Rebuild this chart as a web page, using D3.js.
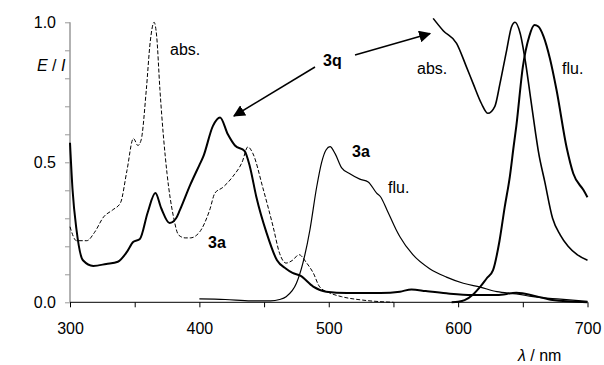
<!DOCTYPE html>
<html lang="en">
<head>
<meta charset="UTF-8">
<title>Spectra 3a / 3q</title>
<style>
  body { margin: 0; background: #fff; }
  svg text { font-family: Arial, 'Liberation Sans', sans-serif; font-size: 16px; fill: #000; }
  .line { fill: none; stroke: #000; }
</style>
</head>
<body>
<div id="chart"></div>
<script src="https://d3js.org/d3.v7.min.js"></script>
<script>
// 3a absorption (dashed)
const absA_nm = [300,305,313,319,326,333,339,344,349,352.5,355,359,362,365,367,369.5,375,380,384,389,393,400,408,412,418,426,433,437.5,441.5,449,457,462,467,472,477,483,488,493,501,510,526,550];
const absA_val = [0.27,0.22,0.22,0.25,0.305,0.33,0.355,0.47,0.585,0.56,0.58,0.76,0.93,1.0,0.95,0.76,0.46,0.305,0.24,0.23,0.23,0.25,0.33,0.39,0.41,0.45,0.50,0.555,0.53,0.41,0.27,0.175,0.14,0.15,0.17,0.14,0.105,0.055,0.033,0.02,0.008,0.0];

// 3q absorption (thick)
const absQ_nm = [300,302,305,310,318,328,337,344,349,354,360,366,370.6,377,382,385,393,400,403,410.5,416,422,427.5,435,439,444,452,460,467,472,478,488,498,514,540,555,564,575,591,611,630,645,660,673,700];
const absQ_val = [0.57,0.40,0.26,0.15,0.13,0.137,0.145,0.18,0.216,0.226,0.32,0.39,0.335,0.283,0.30,0.33,0.42,0.49,0.52,0.63,0.66,0.60,0.56,0.54,0.485,0.377,0.247,0.15,0.12,0.105,0.095,0.056,0.038,0.033,0.033,0.038,0.046,0.04,0.032,0.026,0.026,0.034,0.022,0.008,0.0];

// 3q absorption, long-wavelength band (magnified)
const absQz_nm = [580.7,588.5,598.8,606.5,611.7,618,623,628.4,632.3,637.5,641.3,644,648,652,656,660,662,667,673,679,685,692,700];
const absQz_val = [1.014,0.97,0.925,0.84,0.78,0.71,0.675,0.70,0.78,0.90,0.984,1.0,0.96,0.86,0.73,0.60,0.54,0.43,0.30,0.24,0.20,0.17,0.15];

// 3a fluorescence
const fluA_nm = [400,420,440,455,462,467,475,480,485.5,490.6,494.5,498,501,505,510,516,524,530.5,537,540,545,552,555,565,578,591,604,617,630,645,658,679,700];
const fluA_val = [0.012,0.01,0.005,0.005,0.01,0.02,0.068,0.14,0.26,0.41,0.50,0.545,0.556,0.53,0.48,0.46,0.44,0.43,0.39,0.377,0.33,0.26,0.234,0.17,0.12,0.09,0.068,0.054,0.038,0.03,0.02,0.011,0.003];

// 3q fluorescence
const fluQ_nm = [595,600,605,612,617,622,627,632,636,640,643,645,650,655,659,662,666,671,676,684,689,697,700];
const fluQ_val = [0,0.002,0.008,0.03,0.055,0.085,0.115,0.22,0.34,0.45,0.56,0.63,0.84,0.95,0.99,0.985,0.95,0.87,0.76,0.55,0.46,0.40,0.375];

const xTicks = [300,350,400,450,500,550,600,650,700];
const xLabels = [300,400,500,600,700];
const yTicks = [0,0.1,0.2,0.3,0.4,0.5,0.6,0.7,0.8,0.9,1.0];
const yLabels = [0,0.5,1.0];

const width = 604, height = 365;
const svg = d3.select("#chart").append("svg")
    .attr("width", width)
    .attr("height", height);

const x = d3.scaleLinear().domain([300, 700]).range([70, 587.5]);
const y = d3.scaleLinear().domain([0, 1]).range([302.3, 22.3]);

// axes
const yAxis = svg.append("g")
    .attr("transform", "translate(70,0)")
    .call(d3.axisLeft(y).tickValues(yTicks).tickSize(5).tickPadding(9)
        .tickFormat(d => yLabels.some(v => Math.abs(v - d) < 1e-9) ? d3.format(".1f")(d) : ""));
yAxis.select(".domain").attr("stroke", "#999").attr("stroke-width", 1.5).attr("d", "M0," + y(1) + "V" + y(0));
yAxis.selectAll(".tick line").attr("stroke", "#999");
yAxis.selectAll("text").style("font-size", "16px").attr("fill", "#000");

const xAxis = svg.append("g")
    .attr("transform", "translate(0," + y(0) + ")")
    .call(d3.axisBottom(x).tickValues(xTicks).tickSize(5).tickPadding(15)
        .tickFormat(d => xLabels.includes(d) ? d : ""));
xAxis.select(".domain").attr("stroke", "#000").attr("d", "M" + x(300) + ",0H" + x(700));
xAxis.selectAll(".tick line").attr("stroke", "#000");
xAxis.selectAll("text").style("font-size", "16px").attr("fill", "#000");

// lines
const line = d3.line().x(d => x(d[0])).y(d => y(d[1])).curve(d3.curveMonotoneX);
const zip = (a, b) => a.map((v, i) => [v, b[i]]);

svg.append("path").attr("class", "line").attr("d", line(zip(absA_nm, absA_val)))
    .attr("stroke-width", 1).attr("stroke-dasharray", "4,2");
svg.append("path").attr("class", "line").attr("d", line(zip(fluA_nm, fluA_val)))
    .attr("stroke-width", 1.2);
svg.append("path").attr("class", "line").attr("d", line(zip(absQ_nm, absQ_val)))
    .attr("stroke-width", 2);
svg.append("path").attr("class", "line").attr("d", line(zip(absQz_nm, absQz_val)))
    .attr("stroke-width", 1.6);
svg.append("path").attr("class", "line").attr("d", line(zip(fluQ_nm, fluQ_val)))
    .attr("stroke-width", 2);

// arrows
svg.append("defs").append("marker")
    .attr("id", "head").attr("viewBox", "0 0 10 10")
    .attr("refX", 9).attr("refY", 5)
    .attr("markerWidth", 12).attr("markerHeight", 12).attr("markerUnits", "userSpaceOnUse")
    .attr("orient", "auto")
  .append("path").attr("d", "M0,0L10,5L0,10z").attr("fill", "#000");

svg.append("line").attr("x1", 315).attr("y1", 67).attr("x2", 234).attr("y2", 116)
    .attr("stroke", "#000").attr("stroke-width", 1.5).attr("marker-end", "url(#head)");
svg.append("line").attr("x1", 355).attr("y1", 55).attr("x2", 430).attr("y2", 33.5)
    .attr("stroke", "#000").attr("stroke-width", 1.5).attr("marker-end", "url(#head)");

// labels
const labels = [
  { t: "abs.", x: 170, y: 55 },
  { t: "abs.", x: 417, y: 74 },
  { t: "flu.", x: 562, y: 74 },
  { t: "flu.", x: 388, y: 193 },
  { t: "3q", x: 323, y: 66, bold: true },
  { t: "3a", x: 352, y: 157, bold: true },
  { t: "3a", x: 208, y: 248, bold: true }
];
labels.forEach(l => {
  svg.append("text").attr("x", l.x).attr("y", l.y).text(l.t)
     .style("font-weight", l.bold ? "bold" : "normal");
});

const yt = svg.append("text").attr("x", 37).attr("y", 71);
yt.append("tspan").style("font-style", "italic").text("E");
yt.append("tspan").text(" / ");
yt.append("tspan").style("font-style", "italic").text("I");

const xt = svg.append("text").attr("x", 518).attr("y", 361);
xt.append("tspan").style("font-style", "italic").text("λ");
xt.append("tspan").text(" / nm");
</script>
</body>
</html>
